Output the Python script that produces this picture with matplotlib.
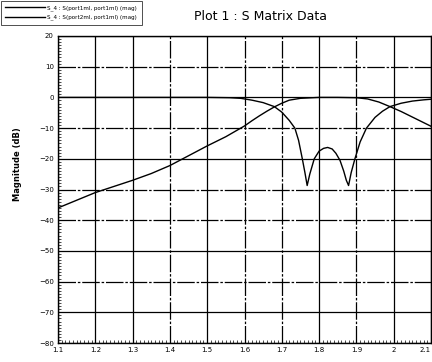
import matplotlib
matplotlib.use("Agg")
import matplotlib.pyplot as plt
from matplotlib.ticker import MultipleLocator

# --- data ---
f_s11 = [1.10, 1.30, 1.50, 1.56, 1.59, 1.62, 1.65, 1.68, 1.70, 1.72, 1.735, 1.745,
         1.755, 1.762, 1.768, 1.775, 1.787, 1.80, 1.812, 1.823, 1.835, 1.845, 1.856,
         1.866, 1.873, 1.879, 1.886, 1.896, 1.91, 1.927, 1.95, 1.97, 1.99, 2.02,
         2.05, 2.08, 2.10]
s11_db = [0.0, 0.0, 0.0, -0.1, -0.3, -0.9, -1.7, -3.0, -4.8, -7.5, -10.0, -14.0,
          -20.0, -24.5, -28.7, -25.0, -20.0, -17.5, -16.6, -16.3, -16.8, -18.2, -20.5,
          -24.0, -27.0, -28.7, -24.5, -20.0, -14.5, -10.0, -6.5, -4.5, -3.0, -1.9,
          -1.2, -0.8, -0.6]

f_s21 = [1.10, 1.15, 1.20, 1.25, 1.30, 1.35, 1.40, 1.45, 1.50, 1.55, 1.60, 1.62,
         1.64, 1.66, 1.68, 1.70, 1.72, 1.75, 1.80, 1.85, 1.90, 1.93, 1.96, 1.99,
         2.02, 2.05, 2.08, 2.10]
s21_db = [-36.0, -33.5, -31.0, -29.0, -27.0, -24.8, -22.2, -19.0, -15.8, -12.8, -9.3, -7.6,
          -6.0, -4.5, -3.1, -1.9, -0.9, -0.3, 0.0, 0.0, -0.1, -0.5, -1.5, -3.0,
          -4.6, -6.4, -8.2, -9.4]

labels = ["S_4 : S(port1ml, port1ml) (mag)", "S_4 : S(port2ml, port1ml) (mag)"]
x_ticks = [1.1, 1.2, 1.3, 1.4, 1.5, 1.6, 1.7, 1.8, 1.9, 2.0, 2.1]
x_ticklabels = ["1.1", "1.2", "1.3", "1.4", "1.5", "1.6", "1.7", "1.8", "1.9", "2", "2.1"]
y_ticks = [20, 10, 0, -10, -20, -30, -40, -50, -60, -70, -80]

plt.rcParams["font.family"] = ["DejaVu Sans"]

fig = plt.figure(figsize=(4.32, 3.62), dpi=100)
ax = fig.add_axes([58 / 432, 1 - 343 / 362, 373 / 432, 307 / 362])

l1, = ax.plot(f_s11, s11_db, color="k", lw=1.0)
l2, = ax.plot(f_s21, s21_db, color="k", lw=1.0)

ax.set_xlim(1.1, 2.1)
ax.set_ylim(-80, 20)
ax.set_xticks(x_ticks)
ax.set_xticklabels(x_ticklabels)
ax.set_yticks(y_ticks)
ax.xaxis.set_minor_locator(MultipleLocator(0.01))
ax.yaxis.set_minor_locator(MultipleLocator(1))
ax.tick_params(which="both", direction="in", top=False, right=False, labelsize=5, pad=3)
ax.tick_params(which="major", length=0)
ax.tick_params(which="minor", length=2, width=0.5)
ax.get_xticklabels()[-1].set_ha("right")

# scanned grid: a mix of solid and dash-dot lines
dash = (0, (14, 1.5, 2, 1.5))
ax.grid(True, which="major", color="k", lw=0.9, ls="-")
for v, gl in zip(x_ticks, ax.get_xgridlines()):
    if round(v, 1) in (1.4, 1.6, 1.7, 1.9):
        gl.set_linestyle(dash)
for v, gl in zip(y_ticks, ax.get_ygridlines()):
    if v in (10, -10, -30, -40, -60):
        gl.set_linestyle(dash)
for sp in ax.spines.values():
    sp.set_linewidth(1.0)

fig.text(18 / 432, 1 - 164 / 362, "Magnitude (dB)", rotation=90, ha="center", va="center",
         fontsize=6, fontweight="bold")
fig.text(261 / 432, 1 - 16 / 362, "Plot 1 : S Matrix Data", ha="center", va="center",
         fontsize=9)

leg = fig.legend([l1, l2], labels, loc="upper left", bbox_to_anchor=(0.0, 1.0),
                 bbox_transform=fig.transFigure, fontsize=4.1, frameon=True,
                 fancybox=False, handlelength=7, handletextpad=0.4, borderpad=0.8,
                 labelspacing=0.7, borderaxespad=0.1)
leg.get_frame().set_edgecolor("k")
leg.get_frame().set_linewidth(0.6)

fig.savefig("out.png", dpi=100)
